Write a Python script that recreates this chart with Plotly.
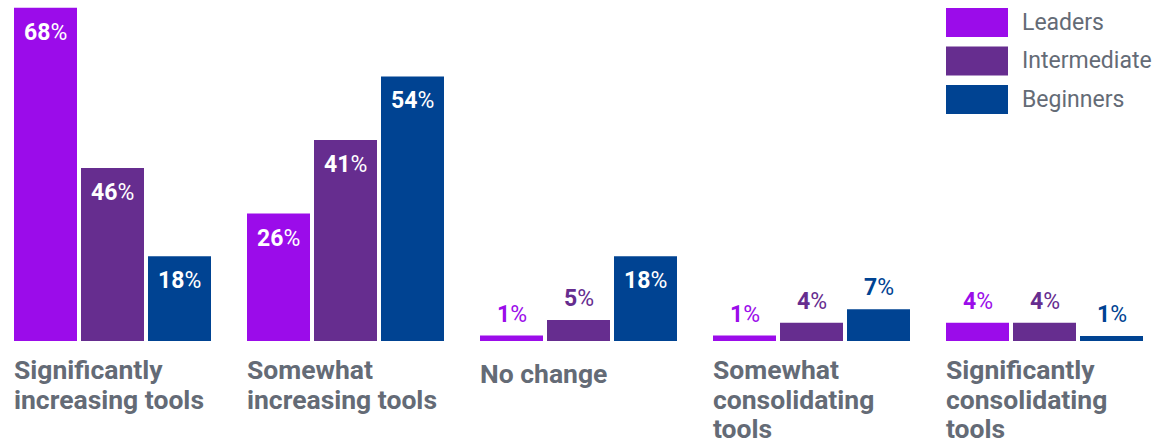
import plotly.graph_objects as go

categories = ["Significantly increasing tools", "Somewhat increasing tools", "No change",
              "Somewhat consolidating tools", "Significantly consolidating tools"]
category_lines = [["Significantly", "increasing tools"],
                  ["Somewhat", "increasing tools"],
                  ["No change"],
                  ["Somewhat", "consolidating", "tools"],
                  ["Significantly", "consolidating", "tools"]]
series_names = ["Leaders", "Intermediate", "Beginners"]
# bar heights as drawn in the picture
leaders_heights = [68, 26, 1.1, 1.1, 3.7]
intermediate_heights = [35.3, 41, 4.3, 3.7, 3.7]
beginners_heights = [17.3, 54, 17.3, 6.5, 1.0]
# printed labels
leaders_labels = [68, 26, 1, 1, 4]
intermediate_labels = [46, 41, 5, 4, 4]
beginners_labels = [18, 54, 18, 7, 1]

heights = [leaders_heights, intermediate_heights, beginners_heights]
labels = [leaders_labels, intermediate_labels, beginners_labels]
colors = ["#9B0CEA", "#662D8F", "#004392"]
gray = "#646B76"

W, H = 1175, 443
plot_h = 341
px_per_pct = 4.9
slot_px = 233
bar_px = 67

fig = go.Figure()
for name, h, c in zip(series_names, heights, colors):
    fig.add_trace(go.Bar(x=categories, y=h, name=name, marker=dict(color=c, line=dict(width=0)),
                         showlegend=False, hoverinfo="skip"))

ann = []
for j in range(3):
    for i, cat in enumerate(categories):
        v = labels[j][i]
        inside = v >= 10
        ann.append(dict(
            x=cat, y=heights[j][i], xref="x", yref="y",
            xshift=(j - 1) * bar_px,
            text=f"<b>{v}</b>%", showarrow=False,
            xanchor="center", yanchor="top" if inside else "bottom",
            yshift=-9 if inside else 6,
            font=dict(family="Roboto", size=23, color="white" if inside else colors[j]),
        ))

for i, cat in enumerate(categories):
    n = len(category_lines[i])
    for k, line in enumerate(category_lines[i]):
        ann.append(dict(
            x=cat, y=0, xref="x", yref="paper", xshift=-98.5 - 2,
            yshift=(-11 - k * 29.5) if n > 1 else -15,
            text=f"<b>{line}</b>", showarrow=False, xanchor="left", yanchor="top",
            font=dict(family="Roboto", size=26.5, color=gray),
        ))

shapes = []
for j, (name, c) in enumerate(zip(series_names, colors)):
    top = 8 + j * 38.5
    shapes.append(dict(type="rect", xref="paper", yref="paper",
                       x0=946 / W, x1=1008 / W,
                       y0=(plot_h - top - 29) / plot_h, y1=(plot_h - top) / plot_h,
                       fillcolor=c, line=dict(width=0)))
    ann.append(dict(x=1020 / W, y=(plot_h - top - 14.5) / plot_h, xref="paper", yref="paper",
                    text=name, showarrow=False, xanchor="left", yanchor="middle",
                    font=dict(family="Roboto", size=23, color=gray)))

r0 = -112.5 / slot_px
fig.update_layout(
    width=W, height=H, margin=dict(l=0, r=0, t=0, b=H - plot_h),
    barmode="group", bargap=1 - 3 * bar_px / slot_px, bargroupgap=4 / bar_px,
    plot_bgcolor="white", paper_bgcolor="white",
    xaxis=dict(range=[r0, r0 + W / slot_px], showticklabels=False, showgrid=False,
               zeroline=False, showline=False, ticks=""),
    yaxis=dict(range=[0, plot_h / px_per_pct], showticklabels=False, showgrid=False,
               zeroline=False, showline=False, ticks=""),
    annotations=ann, shapes=shapes,
)
fig.write_html("out.html")
